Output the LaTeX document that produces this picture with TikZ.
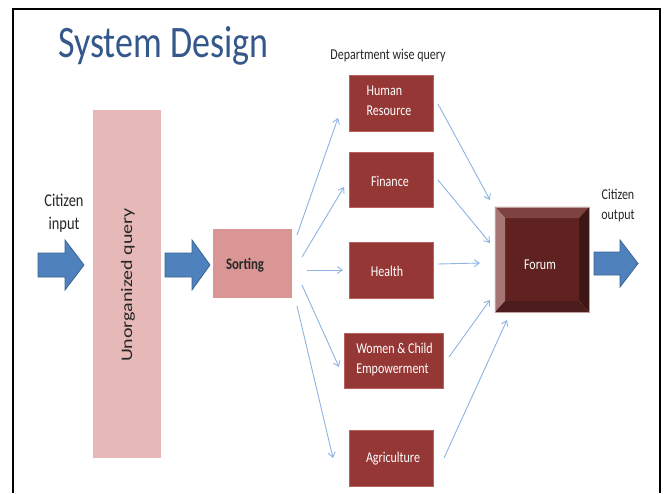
\documentclass[tikz,border=0pt]{standalone}
\usepackage{fontspec}
\setmainfont{Carlito}[FakeStretch=0.8]
\newfontfamily\widefont{Carlito}
\usetikzlibrary{arrows.meta}
\definecolor{titleblue}{HTML}{35588C}
\definecolor{barpink}{HTML}{E6B9B8}
\definecolor{sortpink}{HTML}{D99694}
\definecolor{deptred}{HTML}{953735}
\definecolor{deptedge}{HTML}{B8605D}
\definecolor{arrowblue}{HTML}{4F81BD}
\definecolor{arrowedge}{HTML}{3A6596}
\definecolor{linkblue}{HTML}{8EB4E3}
\definecolor{forumface}{HTML}{5F2221}
\definecolor{forumtop}{HTML}{7E4240}
\definecolor{forumleft}{HTML}{A57674}
\definecolor{forumright}{HTML}{3E1614}
\definecolor{forumbottom}{HTML}{4B1C1B}
\definecolor{darktext}{HTML}{262626}
\begin{document}
\begin{tikzpicture}[x=1pt,y=-1pt,
  dept/.style={rectangle, fill=deptred, draw=deptedge, line width=0.6pt, inner sep=0pt,
    text=white, font=\fontsize{15}{20}\selectfont, align=left},
  depttext/.style={inner sep=0pt, text=white, font=\fontsize{15}{20}\selectfont, align=left},
  blockarrow/.style={fill=arrowblue, draw=arrowedge, line width=0.8pt},
  link/.style={draw=linkblue, line width=0.9pt, -{Straight Barb[length=5pt,width=7pt]}},
  plain/.style={text=darktext, inner sep=0pt, align=center}]
\useasboundingbox (0,0) rectangle (666,493);
\fill[white] (0,0) rectangle (666,493);
% frame
\draw[line width=2.2pt] (13,493) -- (13,9) -- (660,9) -- (660,493);
% title
\node[anchor=base west, inner sep=0pt, text=titleblue, font=\fontsize{45}{50}\selectfont] (title) at (58,57) {System Design};
% labels
\node[plain, font=\fontsize{15}{18}\selectfont] (deptlabel) at (388,56) {Department wise query};
\node[plain, font=\fontsize{18}{23}\selectfont] (cin) at (64,213) {Citizen\\input};
\node[plain, font=\fontsize{15}{20}\selectfont] (cout) at (618,206) {Citizen\\output};
% block arrows
\draw[blockarrow] (38,253) -- (65,253) -- (65,240) -- (84,265) -- (65,290) -- (65,277) -- (38,277) -- cycle;
\draw[blockarrow] (165,253) -- (192,253) -- (192,240) -- (210,265) -- (192,290) -- (192,277) -- (165,277) -- cycle;
\draw[blockarrow] (594,252) -- (620,252) -- (620,240) -- (638,263.5) -- (620,287) -- (620,275) -- (594,275) -- cycle;
% unorganized bar
\node[rectangle, fill=barpink, minimum width=68pt, minimum height=348pt, inner sep=0pt] (bar) at (127,284) {};
\node[rotate=90, text=darktext, inner sep=0pt] (bartext) at (128,285) {\scalebox{1}[0.8]{\widefont\fontsize{20}{24}\selectfont Unorganized query}};
% sorting
\node[rectangle, fill=sortpink, minimum width=79pt, minimum height=69pt, inner sep=0pt] (sort) at (252.5,263.5) {};
\node[inner sep=0pt, text=darktext, font=\bfseries\fontsize{16}{20}\selectfont] (sorttext) at (245,265) {Sorting};
% departments
\node[dept, minimum width=84pt, minimum height=56pt] (hr) at (391,103) {};
\node[depttext] (hrtext) at (389,101) {Human\\Resource};
\node[dept, minimum width=84pt, minimum height=55pt] (fin) at (391,179.5) {};
\node[depttext] (fintext) at (390,181) {Finance};
\node[dept, minimum width=84pt, minimum height=56pt] (health) at (391,270) {};
\node[depttext] (healthtext) at (387,271) {Health};
\node[dept, minimum width=99pt, minimum height=55pt] (women) at (393.5,360.5) {};
\node[depttext] (womentext) at (394.5,359) {Women \& Child\\Empowerment};
\node[dept, minimum width=84pt, minimum height=56pt] (agri) at (391,458) {};
\node[depttext] (agritext) at (393,459) {Agriculture};
% forum with bevel
\node[rectangle, minimum width=94pt, minimum height=105pt, inner sep=0pt] (forum) at (542,259.5) {};
\fill[forumface] (505,218) rectangle (579,301);
\fill[forumtop] (forum.north west) -- (forum.north east) -- (579,218) -- (505,218) -- cycle;
\fill[forumleft] (forum.north west) -- (505,218) -- (505,301) -- (forum.south west) -- cycle;
\fill[forumright] (forum.north east) -- (forum.south east) -- (579,301) -- (579,218) -- cycle;
\fill[forumbottom] (forum.south west) -- (505,301) -- (579,301) -- (forum.south east) -- cycle;
\draw[forumleft!70!white, line width=0.5pt] (forum.north west) rectangle (forum.south east);
\node[text=white, font=\fontsize{15}{18}\selectfont, inner sep=0pt] (forumtext) at (540,265) {Forum};
% connector end points
\coordinate (s1) at (297,235); \coordinate (h1) at (338,118);
\coordinate (s2) at (302,257); \coordinate (h2) at (344,187);
\coordinate (s3) at (307,270); \coordinate (h3) at (343,270);
\coordinate (s4) at (302,285); \coordinate (h4) at (339,367);
\coordinate (s5) at (297,306); \coordinate (h5) at (333,458);
\coordinate (o1) at (438,104); \coordinate (f1) at (490,200);
\coordinate (o2) at (438,180); \coordinate (f2) at (490,243);
\coordinate (o3) at (438,264); \coordinate (f3) at (480,263);
\coordinate (o4) at (449,357); \coordinate (f4) at (490,300);
\coordinate (o5) at (444,458); \coordinate (f5) at (507,320);
\foreach \a/\b in {s1/h1,s2/h2,s3/h3,s4/h4,s5/h5,o1/f1,o2/f2,o3/f3,o4/f4,o5/f5}
  \draw[link] (\a) -- (\b);
\end{tikzpicture}
\end{document}
